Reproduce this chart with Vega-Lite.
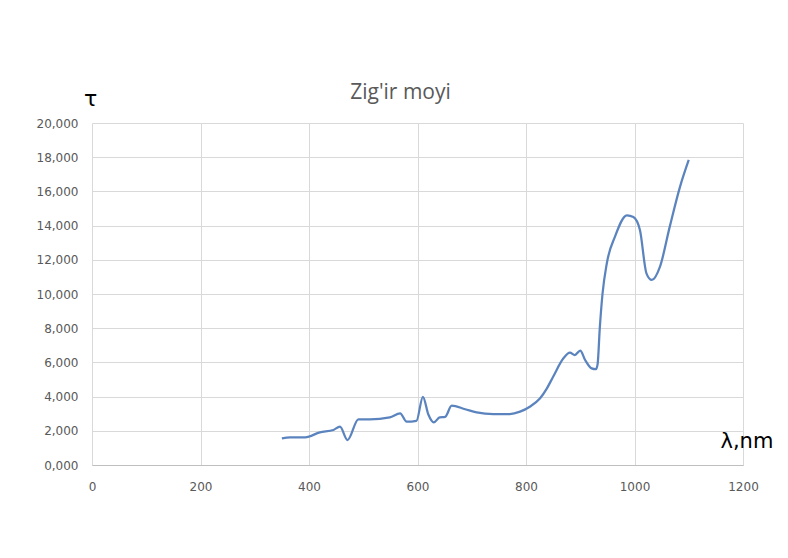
{
  "$schema": "https://vega.github.io/schema/vega-lite/v6.json",
  "autosize": {"type": "none"},
  "padding": {"left": 92, "top": 123, "right": 45, "bottom": 93},
  "width": 651,
  "height": 342,
  "background": "white",
  "title": {
    "text": "Zig'ir moyi",
    "font": "Open Sans",
    "fontSize": 21,
    "fontWeight": "normal",
    "color": "#595959",
    "anchor": "middle",
    "dx": -17,
    "offset": -16
  },
  "config": {
    "view": {"stroke": null},
    "axis": {
      "labelFont": "DejaVu Sans",
      "labelFontSize": 12,
      "labelColor": "#595959",
      "labelFlush": false,
      "gridColor": "#d9d9d9",
      "gridWidth": 1,
      "ticks": false
    }
  },
  "data": {
    "values": [
      {"x": 350, "y": 1.56},
      {"x": 365, "y": 1.62},
      {"x": 393, "y": 1.62},
      {"x": 420, "y": 1.91},
      {"x": 445, "y": 2.05},
      {"x": 457, "y": 2.24},
      {"x": 471, "y": 1.46},
      {"x": 491, "y": 2.67},
      {"x": 512, "y": 2.67},
      {"x": 549, "y": 2.79},
      {"x": 568, "y": 3.02},
      {"x": 580, "y": 2.53},
      {"x": 598, "y": 2.58},
      {"x": 610, "y": 3.99},
      {"x": 620, "y": 2.95},
      {"x": 630, "y": 2.49},
      {"x": 641, "y": 2.79},
      {"x": 651, "y": 2.82},
      {"x": 663, "y": 3.47},
      {"x": 688, "y": 3.26},
      {"x": 709, "y": 3.08},
      {"x": 740, "y": 2.98},
      {"x": 770, "y": 2.98},
      {"x": 789, "y": 3.12},
      {"x": 807, "y": 3.41},
      {"x": 826, "y": 3.9},
      {"x": 838, "y": 4.45},
      {"x": 850, "y": 5.16},
      {"x": 869, "y": 6.24},
      {"x": 881, "y": 6.57},
      {"x": 890, "y": 6.43},
      {"x": 900, "y": 6.69},
      {"x": 909, "y": 6.14},
      {"x": 921, "y": 5.65},
      {"x": 929, "y": 5.6},
      {"x": 932, "y": 5.9},
      {"x": 936, "y": 8.0},
      {"x": 941, "y": 10.0},
      {"x": 949, "y": 11.8},
      {"x": 964, "y": 13.35},
      {"x": 986, "y": 14.6},
      {"x": 998, "y": 14.5},
      {"x": 1010, "y": 13.74},
      {"x": 1022, "y": 11.21},
      {"x": 1032, "y": 10.82},
      {"x": 1047, "y": 11.6},
      {"x": 1065, "y": 13.94},
      {"x": 1084, "y": 16.28},
      {"x": 1100, "y": 17.84}
    ]
  },
  "mark": {"type": "line", "interpolate": "monotone", "color": "#5b84bf", "strokeWidth": 2.25},
  "encoding": {
    "x": {
      "field": "x",
      "type": "quantitative",
      "scale": {"domain": [0, 1200], "nice": false},
      "axis": {
        "values": [0, 200, 400, 600, 800, 1000, 1200],
        "format": "d",
        "labelPadding": 16,
        "domainColor": "#bfbfbf",
        "title": "λ,nm",
        "titleFont": "DejaVu Sans",
        "titleFontSize": 21,
        "titleFontWeight": "normal",
        "titleColor": "#000000",
        "titleAlign": "left",
        "titleBaseline": "alphabetic",
        "titleX": 628,
        "titleY": -18
      }
    },
    "y": {
      "field": "y",
      "type": "quantitative",
      "scale": {"domain": [0, 20], "nice": false},
      "axis": {
        "values": [0, 2, 4, 6, 8, 10, 12, 14, 16, 18, 20],
        "labelExpr": "replace(format(datum.value, '.3f'), '.', ',')",
        "labelPadding": 14,
        "domain": false,
        "title": "τ",
        "titleFont": "DejaVu Sans",
        "titleFontSize": 22,
        "titleFontWeight": "normal",
        "titleColor": "#000000",
        "titleAngle": 0,
        "titleAlign": "center",
        "titleBaseline": "alphabetic",
        "titleX": -2,
        "titleY": -18
      }
    }
  }
}
